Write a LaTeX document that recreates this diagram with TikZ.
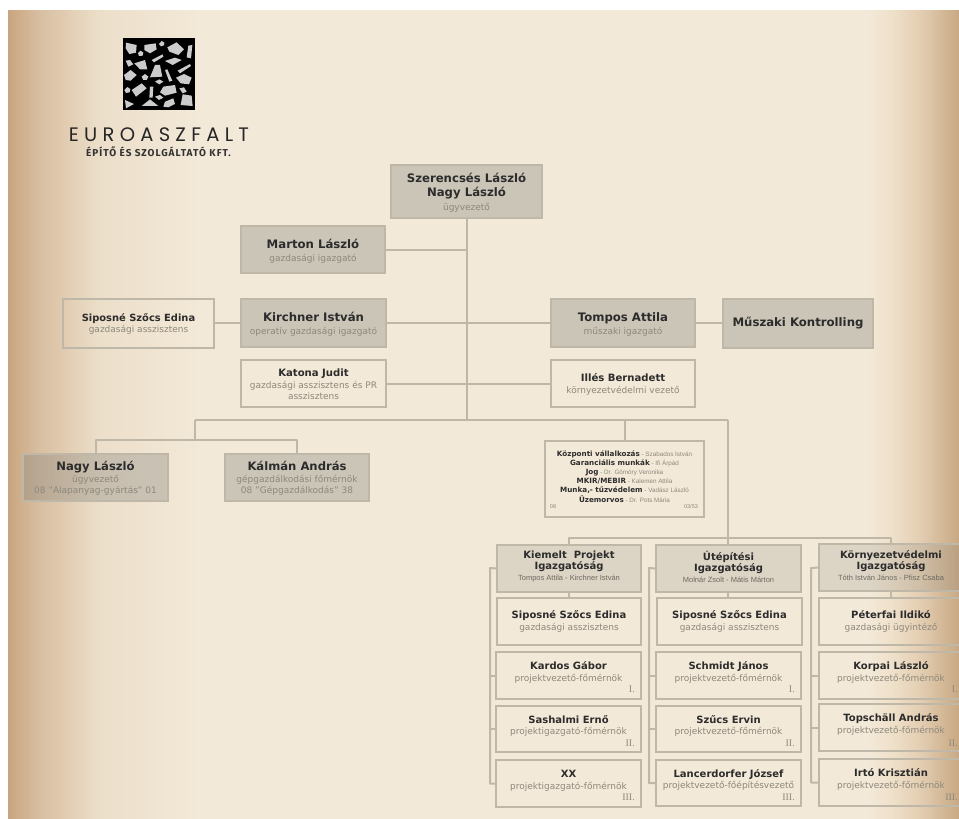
\documentclass[tikz,border=0pt]{standalone}
\usepackage{fontspec}
\setmainfont{DejaVu Sans}
\newfontfamily\lbsans{Liberation Sans}
\newfontfamily\lbserif{Liberation Serif}
\newfontfamily\logofont[LetterSpace=27]{Poppins}
\newfontfamily\logosub[LetterSpace=10]{Fira Sans}
\definecolor{bgA}{HTML}{C9A57F}
\definecolor{bgB}{HTML}{D8BFA2}
\definecolor{bgC}{HTML}{E3CFB5}
\definecolor{bgD}{HTML}{ECDFCA}
\definecolor{bgE}{HTML}{F3E9D8}
\definecolor{bgF}{HTML}{EFE1CB}
\definecolor{bgG}{HTML}{E3CEB2}
\definecolor{bgH}{HTML}{C8A883}
\definecolor{linec}{HTML}{BFB8A9}
\definecolor{fillc}{RGB}{131,130,125}
\definecolor{nmc}{HTML}{2C2C2C}
\definecolor{subc}{HTML}{8E887B}
\definecolor{hsubc}{HTML}{6E6A60}
\pgfdeclarehorizontalshading{bgs}{100bp}{color(0bp)=(bgA); color(25bp)=(bgA); color(26.68bp)=(bgB); color(28.26bp)=(bgC); color(29.84bp)=(bgD); color(35.1bp)=(bgE); color(70.2bp)=(bgE); color(71.4bp)=(bgF); color(72.95bp)=(bgG); color(75bp)=(bgH); color(100bp)=(bgH)}
\tikzset{
  boxbase/.style={rectangle,draw=linec,line width=1.8pt,inner sep=0pt,outer sep=0pt},
  darkbox/.style={boxbase,fill=fillc,fill opacity=.35},
  headbox/.style={boxbase,fill=fillc,fill opacity=.2},
  lightbox/.style={boxbase},
  conn/.style={draw=linec,line width=2pt,line join=round},
  txt/.style={align=center,inner sep=0pt,font=\fontsize{9}{#1}\selectfont},
  numeral/.style={anchor=east,inner sep=0pt,text=subc,font=\lbserif\fontsize{10}{10}\selectfont},
  tiny/.style={inner sep=0pt,text=subc,font=\lbsans\fontsize{5.5}{6}\selectfont},
  stone/.style={fill=black!20,draw=none}
}
\newcommand\txn[2]{{\fontsize{#1}{12}\selectfont\bfseries\color{nmc}#2}}
\newcommand\txs[2]{{\fontsize{#1}{12}\selectfont\color{subc}#2}}
\newcommand\txh[2]{{\lbsans\fontsize{#1}{10}\selectfont\color{hsubc}#2}}
\newcommand\txc[2]{{\fontsize{7.2}{9}\selectfont\bfseries\color{nmc}#1}{\lbsans\fontsize{6.3}{9}\selectfont\color{subc}\ - #2}}
\newcommand\obox[9][0]{%
  \pgfmathsetmacro\bcx{(#3+#5)/2}\pgfmathsetmacro\bcy{(#4+#6)/2}%
  \pgfmathsetmacro\bw{#5-#3}\pgfmathsetmacro\bh{#6-#4}\pgfmathsetmacro\bty{\bcy+#1}%
  \node[#7,minimum width=\bw pt,minimum height=\bh pt] (#2) at (\bcx,\bcy) {};
  \node[txt=#8] (#2-t) at (\bcx,\bty) {#9};
}
\begin{document}
\begin{tikzpicture}[x=1pt,y=-1pt]
\useasboundingbox (0,0) rectangle (959,819);
\clip (0,0) rectangle (959,819);
\fill[white] (0,0) rectangle (959,819);
\path[shading=bgs] (8,10) rectangle (959,819);

% logo
\fill[black] (122.5,38) rectangle (194.5,109.5);
\begin{scope}[shift={(110,30)},x=.3333pt,y=-.3333pt]
\fill[stone] (48,38)--(80,45)--(78,68)--(58,72)--(47,55)--cycle;
\fill[stone] (103,45)--(137,40)--(140,58)--(120,70)--(103,60)--cycle;
\fill[stone] (155,33)--(163,38)--(162,46)--(153,49)--(147,42)--cycle;
\fill[stone] (172,52)--(200,37)--(222,58)--(205,75)--(178,65)--cycle;
\fill[stone] (235,47)--(247,45)--(243,85)--(230,82)--cycle;
\fill[stone] (92,62)--(100,68)--(98,77)--(87,78)--(84,69)--cycle;
\fill[stone] (125,90)--(158,73)--(160,80)--(132,97)--cycle;
\fill[stone] (47,92)--(60,90)--(70,103)--(55,110)--cycle;
\fill[stone] (73,100)--(105,90)--(112,118)--(90,118)--cycle;
\fill[stone] (165,93)--(195,83)--(215,90)--(188,105)--cycle;
\fill[stone] (203,122)--(240,102)--(243,108)--(210,130)--cycle;
\fill[stone] (135,105)--(150,105)--(157,140)--(120,142)--cycle;
\fill[stone] (42,135)--(62,120)--(80,135)--(62,152)--(47,150)--cycle;
\fill[stone] (165,120)--(172,118)--(187,152)--(178,155)--cycle;
\fill[stone] (95,140)--(105,132)--(115,140)--(110,150)--(100,150)--cycle;
\fill[stone] (198,143)--(222,132)--(245,143)--(237,163)--(212,160)--cycle;
\fill[stone] (135,155)--(148,148)--(160,155)--(148,163)--cycle;
\fill[stone] (52,171)--(61,177)--(59,187)--(48,189)--(43,180)--cycle;
\fill[stone] (65,180)--(95,160)--(110,175)--(78,200)--cycle;
\fill[stone] (120,170)--(130,170)--(128,203)--(118,203)--cycle;
\fill[stone] (160,170)--(195,165)--(200,188)--(165,197)--(150,187)--cycle;
\fill[stone] (208,175)--(222,172)--(230,185)--(218,190)--cycle;
\fill[stone] (135,200)--(150,195)--(160,203)--(147,210)--cycle;
\fill[stone] (212,225)--(218,193)--(245,197)--(248,228)--cycle;
\fill[stone] (45,210)--(72,222)--(48,235)--cycle;
\fill[stone] (120,208)--(145,228)--(95,228)--cycle;
\fill[stone] (165,215)--(190,205)--(195,222)--(175,232)--(160,230)--cycle;
\end{scope}
\node[inner sep=0pt,text=black!85,font=\logofont\fontsize{19.5}{20}\selectfont] (logoname) at (159,134.5) {EUROASZFALT};
\node[inner sep=0pt,text=black!80,font=\logosub\bfseries\fontsize{10}{11}\selectfont] (logosub) at (158.5,151.5) {ÉPÍTŐ ÉS SZOLGÁLTATÓ KFT.};

% upper boxes
\obox[1.5]{top}{391}{165}{542}{218}{darkbox}{14}{\txn{11.7}{Szerencsés László}\\\txn{11.7}{Nagy László}\\\txs{9}{ügyvezető}}
\obox[1.5]{marton}{241}{226}{385}{273}{darkbox}{13.3}{\txn{11.7}{Marton László}\\\txs{9}{gazdasági igazgató}}
\obox[0.5]{sipos}{63}{299}{214}{348}{lightbox}{11.7}{\txn{9.9}{Siposné Szőcs Edina}\\\txs{9}{gazdasági asszisztens}}
\obox[1.5]{kirchner}{241}{299}{386}{347}{darkbox}{13.3}{\txn{11.7}{Kirchner István}\\\txs{9}{operatív gazdasági igazgató}}
\obox[1]{katona}{241}{360}{386}{407}{lightbox}{11.4}{\txn{10.1}{Katona Judit}\\\txs{9}{gazdasági asszisztens és PR}\\\txs{9}{asszisztens}}
\obox[1.5]{tompos}{551}{299}{695}{347}{darkbox}{13.3}{\txn{11.7}{Tompos Attila}\\\txs{9}{műszaki igazgató}}
\obox{kontroll}{723}{299}{873}{348}{darkbox}{13}{\txn{11.7}{Műszaki Kontrolling}}
\obox[0.5]{illes}{551}{360}{695}{407}{lightbox}{12}{\txn{10.1}{Illés Bernadett}\\\txs{9}{környezetvédelmi vezető}}
\obox[1]{nagy}{23}{454}{168}{501}{darkbox}{11.7}{\txn{11.6}{Nagy László}\\\txs{9}{ügyvezető}\\\txs{9}{08 "Alapanyag-gyártás" 01}}
\obox[1]{kalman}{225}{454}{369}{501}{darkbox}{11.7}{\txn{11.6}{Kálmán András}\\\txs{9}{gépgazdálkodási főmérnök}\\\txs{9}{08 "Gépgazdálkodás" 38}}
\obox[-2.5]{central}{545}{441}{704}{517}{lightbox}{9.1}{\txc{Központi vállalkozás}{Szabados István}\\\txc{Garanciális munkák}{Ifi Árpád}\\\txc{Jog}{Dr. Gömöry Veronika}\\\txc{MKIR/MEBIR}{Kalemen Attila}\\\txc{Munka,- tűzvédelem}{Vadász László}\\\txc{Üzemorvos}{Dr. Pots Mária}}
\node[tiny] (cl) at (553,507) {08};
\node[tiny] (cr) at (691,507) {03/53};

% column 1
\obox[-2]{ka}{497}{545}{641}{592}{headbox}{11}{\txn{10}{Kiemelt\ \ Projekt}\\\txn{10}{Igazgatóság}\\\txh{7.5}{Tompos Attila - Kirchner István}}
\obox{kb}{497}{598}{641}{645}{lightbox}{11.7}{\txn{10}{Siposné Szőcs Edina}\\\txs{9}{gazdasági asszisztens}}
\obox[-3]{kc}{496}{652}{641}{699}{lightbox}{11.7}{\txn{10}{Kardos Gábor}\\\txs{9}{projektvezető-főmérnök}}
\obox[-3]{kd}{496}{706}{641}{752}{lightbox}{11.7}{\txn{10}{Sashalmi Ernő}\\\txs{9}{projektigazgató-főmérnök}}
\obox[-3]{ke}{496}{760}{641}{807}{lightbox}{11.7}{\txn{10}{XX}\\\txs{9}{projektigazgató-főmérnök}}
\node[numeral] (kcn) at (635,689) {I.};
\node[numeral] (kdn) at (635,743) {II.};
\node[numeral] (ken) at (635,797) {III.};

% column 2
\obox[-2]{ua}{656}{545}{801}{592}{headbox}{11}{\txn{10}{Útépítési}\\\txn{10}{Igazgatóság}\\\txh{7.5}{Molnár Zsolt - Mátis Márton}}
\obox{ub}{657}{598}{802}{645}{lightbox}{11.7}{\txn{10}{Siposné Szőcs Edina}\\\txs{9}{gazdasági asszisztens}}
\obox[-3]{uc}{656}{652}{801}{699}{lightbox}{11.7}{\txn{10}{Schmidt János}\\\txs{9}{projektvezető-főmérnök}}
\obox[-3]{ud}{656}{706}{801}{752}{lightbox}{11.7}{\txn{10}{Szűcs Ervin}\\\txs{9}{projektvezető-főmérnök}}
\obox[-3]{ue}{656}{760}{801}{806}{lightbox}{11.7}{\txn{10}{Lancerdorfer József}\\\txs{9}{projektvezető-főépítésvezető}}
\node[numeral] (ucn) at (795,689) {I.};
\node[numeral] (udn) at (795,743) {II.};
\node[numeral] (uen) at (795,797) {III.};

% column 3
\obox[-2]{ta}{819}{544}{963}{591}{headbox}{11}{\txn{10}{Környezetvédelmi}\\\txn{10}{Igazgatóság}\\\txh{7.5}{Tóth István János - Pfisz Csaba}}
\obox{tb}{819}{598}{963}{645}{lightbox}{11.7}{\txn{10}{Péterfai Ildikó}\\\txs{9}{gazdasági ügyintéző}}
\obox[-3]{tc}{819}{652}{963}{699}{lightbox}{11.7}{\txn{10}{Korpai László}\\\txs{9}{projektvezető-főmérnök}}
\obox[-3]{td}{819}{704}{963}{751}{lightbox}{11.7}{\txn{10}{Topschäll András}\\\txs{9}{projektvezető-főmérnök}}
\obox[-3]{te}{819}{759}{963}{806}{lightbox}{11.7}{\txn{10}{Irtó Krisztián}\\\txs{9}{projektvezető-főmérnök}}
\node[numeral] (tcn) at (958,689) {I.};
\node[numeral] (tdn) at (958,743) {II.};
\node[numeral] (ten) at (958,797) {III.};

% junctions
\coordinate (trunk) at (466.5,420);
\coordinate (jl) at (195,420);
\coordinate (jlb) at (195,440);
\coordinate (jc) at (625,420);
\coordinate (jr) at (728,420);
\coordinate (jrb) at (728,537.5);
\coordinate (bk) at (490,568);
\coordinate (bu) at (649,568);
\coordinate (bt) at (811,568);

% connectors
\draw[conn] (top.south -| trunk) -- (trunk);
\draw[conn] (marton.east) -- (marton.east -| trunk);
\draw[conn] (sipos.east |- kirchner.west) -- (kirchner.west);
\draw[conn] (kirchner.east) -- (tompos.west);
\draw[conn] (tompos.east) -- (tompos.east -| kontroll.west);
\draw[conn] (katona.east) -- (illes.west);
\draw[conn] (jl) -- (jr);
\draw[conn] (jl) -- (jlb);
\draw[conn] (nagy.north) |- (jlb) -| (kalman.north);
\draw[conn] (jc) -- (central.north -| jc);
\draw[conn] (jr) -- (ua.north -| jr);
\draw[conn] (ka.north) |- (jrb) -| (ta.north);
\draw[conn] (ka.south) -- (kb.north);
\draw[conn] (ua.south -| jr) -- (ub.north -| jr);
\draw[conn] (ta.south) -- (tb.north);
\draw[conn] (ka.west) -- (bk) -- (bk |- ke.west) -- (ke.west);
\draw[conn] (bk |- kc.west) -- (kc.west);
\draw[conn] (bk |- kd.west) -- (kd.west);
\draw[conn] (ua.west) -- (bu) -- (bu |- ue.west) -- (ue.west);
\draw[conn] (bu |- uc.west) -- (uc.west);
\draw[conn] (bu |- ud.west) -- (ud.west);
\draw[conn] (ta.west) -- (bt) -- (bt |- te.west) -- (te.west);
\draw[conn] (bt |- tc.west) -- (tc.west);
\draw[conn] (bt |- td.west) -- (td.west);
\end{tikzpicture}
\end{document}
